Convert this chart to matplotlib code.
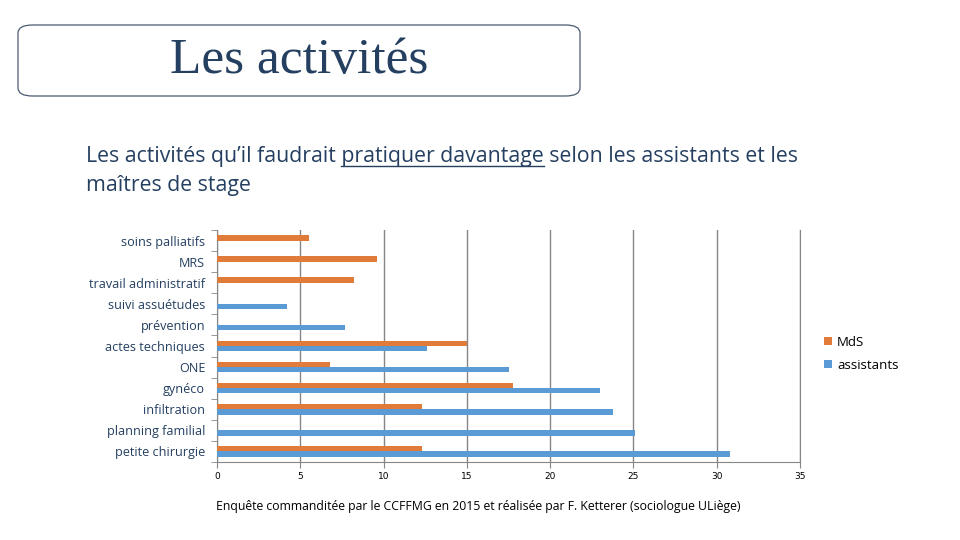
import matplotlib
matplotlib.use('Agg')
import matplotlib.pyplot as plt
from matplotlib.patches import FancyBboxPatch
import numpy as np

# données
categories = ['soins palliatifs', 'MRS', 'travail administratif', 'suivi assuétudes',
              'prévention', 'actes techniques', 'ONE', 'gynéco', 'infiltration',
              'planning familial', 'petite chirurgie']
mds = [5.5, 9.6, 8.2, 0, 0, 15.0, 6.8, 17.8, 12.3, 0, 12.3]
assistants = [0, 0, 0, 4.2, 7.7, 12.6, 17.5, 23.0, 23.8, 25.1, 30.8]
xticks = [0, 5, 10, 15, 20, 25, 30, 35]

W, H = 960, 540
fig = plt.figure(figsize=(9.6, 5.4), dpi=100)
fig.patch.set_facecolor('white')

def fx(px):
    return px / W

def fy(py):
    return 1 - py / H

text_col = '#243f60'
orange = '#E07B39'
blue = '#5B9BD5'
grid_col = '#868686'

# cadre du titre
box = FancyBboxPatch((fx(18), fy(96)), fx(580) - fx(18), fy(25) - fy(96),
                     boxstyle='round,pad=0,rounding_size=0.015',
                     transform=fig.transFigure, facecolor='white',
                     edgecolor='#4a5a72', linewidth=0.9)
fig.patches.append(box)
fig.text(fx(299), fy(61), 'Les activités', ha='center', va='center',
         fontsize=37, family='Liberation Serif', color=text_col)

# sous-titre avec soulignement
sub_font = dict(fontsize=15.3, family='Open Sans', color=text_col)
line1_pre = 'Les activités qu\u2019il faudrait '
line1_ul = 'pratiquer davantage'
line1_post = ' selon les assistants et les'
x0, y0 = fx(86), fy(162)
fig.text(x0, y0, line1_pre + line1_ul + line1_post, ha='left', va='baseline', **sub_font)
fig.text(x0, fy(191), 'maîtres de stage', ha='left', va='baseline', **sub_font)

fig.canvas.draw()
renderer = fig.canvas.get_renderer()
t_pre = fig.text(x0, y0, line1_pre, ha='left', va='baseline', **sub_font)
t_all = fig.text(x0, y0, line1_pre + line1_ul, ha='left', va='baseline', **sub_font)
w_pre = t_pre.get_window_extent(renderer).width / W
w_all = t_all.get_window_extent(renderer).width / W
t_pre.remove()
t_all.remove()
fig.add_artist(plt.Line2D([x0 + w_pre, x0 + w_all], [y0 - 4 / H, y0 - 4 / H],
                          transform=fig.transFigure, color=text_col, linewidth=1.0))

# graphique à barres
ax = fig.add_axes([fx(217), fy(462), fx(800) - fx(217), fy(230) - fy(462)])
y = np.arange(len(categories))
h = 0.25
ax.barh(y - h / 2, mds, height=h, color=orange, label='MdS', zorder=3)
ax.barh(y + h / 2, assistants, height=h, color=blue, label='assistants', zorder=3)

ax.set_ylim(len(categories) - 0.5, -0.5)
ax.set_xlim(0, 35)
ax.set_xticks(xticks)
ax.set_xticklabels([str(v) for v in xticks], fontsize=6.5, family='DejaVu Sans')
ax.set_yticks(y)
ax.set_yticklabels(categories, fontsize=9.1, family='Open Sans', color=text_col)
ax.set_yticks(np.arange(len(categories) + 1) - 0.5, minor=True)
ax.tick_params(axis='y', which='major', length=0, pad=8.5)
ax.tick_params(axis='y', which='minor', length=4, color=grid_col)
ax.tick_params(axis='x', length=4, color=grid_col, pad=3)
ax.grid(True, axis='x', color=grid_col, linewidth=1.0, zorder=0)
ax.spines['top'].set_visible(False)
for s in ['left', 'bottom', 'right']:
    ax.spines[s].set_color(grid_col)

leg = ax.legend(loc='upper left', bbox_to_anchor=((812 - 217) / 583, (462 - 324) / 232),
                frameon=False, handlelength=0.6, handleheight=0.6,
                handletextpad=0.4, labelspacing=0.75, prop={'family': 'Open Sans', 'size': 9.5})
for t in leg.get_texts():
    t.set_color('black')

fig.text(fx(216), fy(510), 'Enquête commanditée par le CCFFMG en 2015 et réalisée par F. Ketterer (sociologue ULiège)',
         ha='left', va='baseline', fontsize=8.8, family='Open Sans', color='black')

fig.savefig('out.png', dpi=100)
plt.close(fig)
